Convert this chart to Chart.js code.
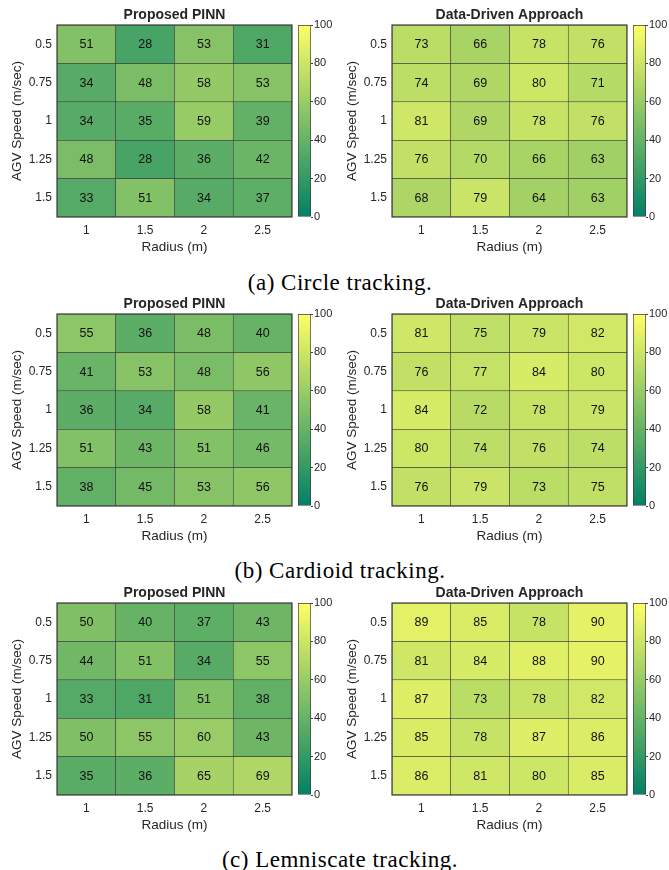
<!DOCTYPE html>
<html>
<head>
<meta charset="utf-8">
<script src="https://cdn.jsdelivr.net/npm/chart.js@4.4.0/dist/chart.umd.min.js"></script>
<style>
  body { margin: 0; background: #fff; width: 669px; height: 870px; position: relative; overflow: hidden; }
  canvas { position: absolute; }
  .cap { position: absolute; left: 0; width: 680px; text-align: center; font-family: 'Liberation Serif', serif;
         font-size: 23px; line-height: 23px; letter-spacing: 0.5px; color: #000; }
</style>
</head>
<body>
<canvas id="h1" width="294" height="255" style="left:0;top:0"></canvas>
<canvas id="c1" width="40" height="255" style="left:296px;top:0"></canvas>
<canvas id="h2" width="294" height="255" style="left:335px;top:0"></canvas>
<canvas id="c2" width="40" height="255" style="left:631px;top:0"></canvas>
<div class="cap" style="top:271px">(a) Circle tracking.</div>

<canvas id="h3" width="294" height="255" style="left:0;top:289px"></canvas>
<canvas id="c3" width="40" height="255" style="left:296px;top:289px"></canvas>
<canvas id="h4" width="294" height="255" style="left:335px;top:289px"></canvas>
<canvas id="c4" width="40" height="255" style="left:631px;top:289px"></canvas>
<div class="cap" style="top:559px">(b) Cardioid tracking.</div>

<canvas id="h5" width="294" height="255" style="left:0;top:578px"></canvas>
<canvas id="c5" width="40" height="255" style="left:296px;top:578px"></canvas>
<canvas id="h6" width="294" height="255" style="left:335px;top:578px"></canvas>
<canvas id="c6" width="40" height="255" style="left:631px;top:578px"></canvas>
<div class="cap" style="top:848px">(c) Lemniscate tracking.</div>

<script>
const radii = ['1', '1.5', '2', '2.5'];
const speeds = ['0.5', '0.75', '1', '1.25', '1.5'];
const cbTicks = [0, 20, 40, 60, 80, 100];

// rows = speeds (top to bottom), columns = radii
const circlePinn = [[51, 28, 53, 31], [34, 48, 58, 53], [34, 35, 59, 39], [48, 28, 36, 42], [33, 51, 34, 37]];
const circleData = [[73, 66, 78, 76], [74, 69, 80, 71], [81, 69, 78, 76], [76, 70, 66, 63], [68, 79, 64, 63]];
const cardioidPinn = [[55, 36, 48, 40], [41, 53, 48, 56], [36, 34, 58, 41], [51, 43, 51, 46], [38, 45, 53, 56]];
const cardioidData = [[81, 75, 79, 82], [76, 77, 84, 80], [84, 72, 78, 79], [80, 74, 76, 74], [76, 79, 73, 75]];
const lemniPinn = [[50, 40, 37, 43], [44, 51, 34, 55], [33, 31, 51, 38], [50, 55, 60, 43], [35, 36, 65, 69]];
const lemniData = [[89, 85, 78, 90], [81, 84, 88, 90], [87, 73, 78, 82], [85, 78, 87, 86], [86, 81, 80, 85]];

const TXT = '#262626';
const EDGE = '#3c3c3c';
const FONT = '"Liberation Sans", Arial, sans-serif';
Chart.defaults.font.family = FONT;
Chart.defaults.color = TXT;

// MATLAB "summer" colormap
function summer(v) {
  const t = v / 100;
  return `rgb(${Math.round(255 * t)},${Math.round(255 * (0.5 + 0.5 * t))},102)`;
}

// cell labels, plot frame and title centred over the plot area
const cellText = {
  id: 'cellText',
  afterDatasetsDraw(chart) {
    const ctx = chart.ctx;
    const a = chart.chartArea;
    ctx.save();
    ctx.font = '12.5px ' + FONT;
    ctx.fillStyle = '#111';
    ctx.textAlign = 'center';
    ctx.textBaseline = 'middle';
    chart.data.datasets.forEach((ds, i) => {
      chart.getDatasetMeta(i).data.forEach((bar, j) => {
        const p = bar.getProps(['x', 'y', 'base'], true);
        ctx.fillText(ds.values[j], p.x, (p.y + p.base) / 2 + 0.5);
      });
    });
    ctx.strokeStyle = EDGE;
    ctx.lineWidth = 1.2;
    ctx.strokeRect(a.left, a.top, a.right - a.left, a.bottom - a.top);
    ctx.font = 'bold 14px ' + FONT;
    ctx.fillStyle = TXT;
    ctx.fillText(chart.options.plugins.cellText.title, (a.left + a.right) / 2, a.top - 9.5);
    ctx.restore();
  }
};

function heatmap(id, title, grid) {
  new Chart(document.getElementById(id), {
    type: 'bar',
    data: {
      labels: radii,
      datasets: grid.map((row, r) => ({
        data: row.map(() => [r + 0.5, r + 1.5]),
        values: row,
        backgroundColor: row.map(summer),
        borderColor: EDGE,
        borderWidth: 0.6,
        borderSkipped: false,
        barPercentage: 1,
        categoryPercentage: 1,
        grouped: false
      }))
    },
    options: {
      responsive: false,
      animation: false,
      layout: { padding: { right: 2, top: 25 } },
      plugins: {
        legend: { display: false },
        tooltip: { enabled: false },
        cellText: { title: title }
      },
      scales: {
        x: {
          grid: { display: false, drawTicks: false },
          border: { display: false },
          ticks: { font: { size: 12 }, padding: 6 },
          title: { display: true, text: 'Radius (m)', font: { size: 13.5 }, padding: { top: 0, bottom: 0 } },
          afterFit: s => { s.height = 38; }
        },
        y: {
          type: 'linear', reverse: true, min: 0.5, max: 5.5,
          grid: { display: false, drawTicks: false },
          border: { display: false },
          afterBuildTicks: s => { s.ticks = speeds.map((_, i) => ({ value: i + 1 })); },
          ticks: { font: { size: 12 }, padding: 5, callback: v => speeds[v - 1] },
          title: { display: true, text: 'AGV Speed (m/sec)', font: { size: 13.5 }, padding: { top: 9, bottom: 0 } },
          afterFit: s => { s.width = 57; }
        }
      }
    },
    plugins: [cellText]
  });
}

function colorbar(id) {
  new Chart(document.getElementById(id), {
    type: 'bar',
    data: {
      labels: [''],
      datasets: [{
        data: [[cbTicks[0], cbTicks[cbTicks.length - 1]]],
        backgroundColor: c => {
          const a = c.chart.chartArea;
          if (!a) return summer(50);
          const g = c.chart.ctx.createLinearGradient(0, a.bottom, 0, a.top);
          g.addColorStop(0, summer(cbTicks[0]));
          g.addColorStop(1, summer(cbTicks[cbTicks.length - 1]));
          return g;
        },
        borderColor: EDGE,
        borderWidth: 1,
        borderSkipped: false,
        barPercentage: 1,
        categoryPercentage: 1
      }]
    },
    options: {
      responsive: false,
      animation: false,
      layout: { padding: { left: 2, top: 25, bottom: 38 } },
      plugins: { legend: { display: false }, tooltip: { enabled: false } },
      scales: {
        x: { display: false },
        y: {
          position: 'right', min: 0, max: 100,
          afterBuildTicks: s => { s.ticks = cbTicks.map(v => ({ value: v })); },
          grid: { drawOnChartArea: false, tickLength: 2, color: EDGE },
          border: { display: false },
          ticks: { font: { size: 11 }, padding: 1 },
          afterFit: s => { s.width = 25; }
        }
      }
    }
  });
}

heatmap('h1', 'Proposed PINN', circlePinn);
heatmap('h2', 'Data-Driven Approach', circleData);
heatmap('h3', 'Proposed PINN', cardioidPinn);
heatmap('h4', 'Data-Driven Approach', cardioidData);
heatmap('h5', 'Proposed PINN', lemniPinn);
heatmap('h6', 'Data-Driven Approach', lemniData);
['c1', 'c2', 'c3', 'c4', 'c5', 'c6'].forEach(colorbar);
</script>
</body>
</html>
